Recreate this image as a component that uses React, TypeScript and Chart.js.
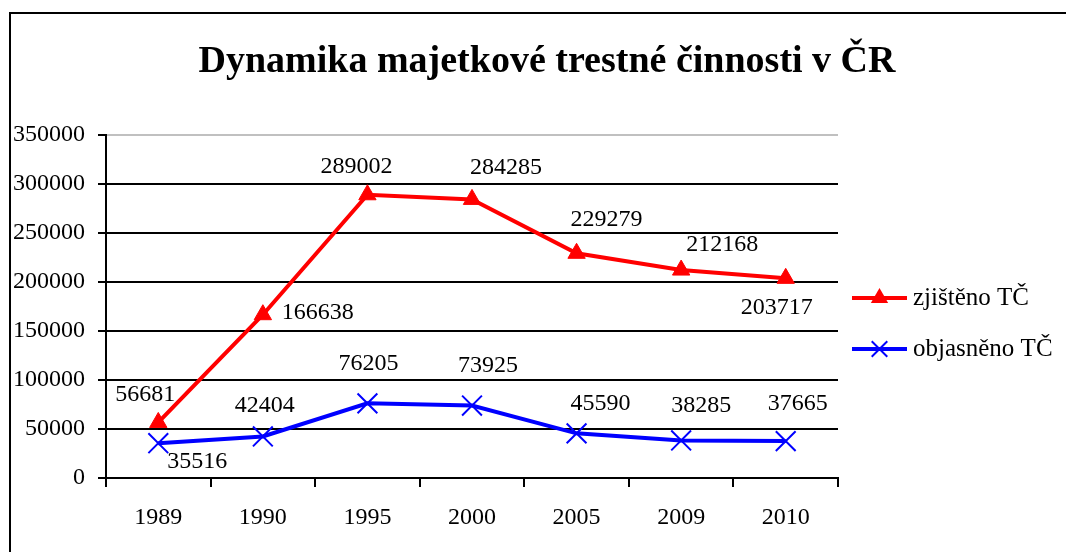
import React, { useEffect, useRef } from 'react';
import { Chart, registerables } from 'chart.js';

Chart.register(...registerables);

const titleText = 'Dynamika majetkové trestné činnosti v ČR';
const years = ['1989', '1990', '1995', '2000', '2005', '2009', '2010'];
const zjisteno = [56681, 166638, 289002, 284285, 229279, 212168, 203717];
const objasneno = [35516, 42404, 76205, 73925, 45590, 38285, 37665];
const seriesNames = ['zjištěno TČ', 'objasněno TČ'];
const yMin = 0;
const yMax = 350000;
const yStep = 50000;

// label offsets (dx, dy) from each point, in px
const zjistenoLabelOffsets = [[-13, -28], [55, -2], [-11, -28], [34, -32], [30, -34], [41, -25], [-9, 29]];
const objasnenoLabelOffsets = [[39, 19], [2, -31], [1, -40], [16, -40], [24, -30], [20, -35], [12, -37]];

const FONT = '"Liberation Serif", "Times New Roman", serif';
const RED = '#ff0000';
const BLUE = '#0000ff';

function drawTriangle(ctx: CanvasRenderingContext2D, x: number, y: number, r: number, color: string) {
  ctx.beginPath();
  let rad = 0;
  ctx.moveTo(x + Math.sin(rad) * r, y - Math.cos(rad) * r);
  rad += (2 * Math.PI) / 3;
  ctx.lineTo(x + Math.sin(rad) * r, y - Math.cos(rad) * r);
  rad += (2 * Math.PI) / 3;
  ctx.lineTo(x + Math.sin(rad) * r, y - Math.cos(rad) * r);
  ctx.closePath();
  ctx.fillStyle = color;
  ctx.fill();
}

function drawCross(ctx: CanvasRenderingContext2D, x: number, y: number, r: number, color: string) {
  const o = Math.cos(Math.PI / 4) * r;
  ctx.beginPath();
  ctx.moveTo(x - o, y - o);
  ctx.lineTo(x + o, y + o);
  ctx.moveTo(x + o, y - o);
  ctx.lineTo(x - o, y + o);
  ctx.strokeStyle = color;
  ctx.lineWidth = 2;
  ctx.stroke();
}

export default function App() {
  const ref = useRef<HTMLCanvasElement>(null);

  useEffect(() => {
    document.body.style.margin = '0';
    const canvas = ref.current;
    if (!canvas) return;

    const framePlugin = {
      id: 'frame',
      beforeDraw(chart: any) {
        const ctx = chart.ctx as CanvasRenderingContext2D;
        ctx.save();
        ctx.fillStyle = '#ffffff';
        ctx.fillRect(0, 0, chart.width, chart.height);
        ctx.strokeStyle = '#000000';
        ctx.lineWidth = 2;
        ctx.strokeRect(10, 13, chart.width + 20, chart.height + 20);
        ctx.restore();
      },
    };

    const titlePlugin = {
      id: 'customTitle',
      afterDraw(chart: any) {
        const ctx = chart.ctx as CanvasRenderingContext2D;
        ctx.save();
        ctx.fillStyle = '#000';
        ctx.font = `bold 38px ${FONT}`;
        ctx.textAlign = 'center';
        ctx.textBaseline = 'middle';
        ctx.fillText(titleText, 547, 62);
        ctx.restore();
      },
    };

    const legendPlugin = {
      id: 'customLegend',
      afterDraw(chart: any) {
        const ctx = chart.ctx as CanvasRenderingContext2D;
        ctx.save();
        const items = [
          { name: seriesNames[0], color: RED, y: 298, kind: 'tri' },
          { name: seriesNames[1], color: BLUE, y: 349, kind: 'cross' },
        ];
        for (const it of items) {
          ctx.beginPath();
          ctx.moveTo(852, it.y);
          ctx.lineTo(907, it.y);
          ctx.strokeStyle = it.color;
          ctx.lineWidth = 4;
          ctx.stroke();
          if (it.kind === 'tri') drawTriangle(ctx, 879.5, it.y, 10, it.color);
          else drawCross(ctx, 879.5, it.y, 11, it.color);
          ctx.fillStyle = '#000';
          ctx.font = `25px ${FONT}`;
          ctx.textAlign = 'left';
          ctx.textBaseline = 'middle';
          ctx.fillText(it.name, 913, it.y);
        }
        ctx.restore();
      },
    };

    const labelPlugin = {
      id: 'pointLabels',
      afterDatasetsDraw(chart: any) {
        const ctx = chart.ctx as CanvasRenderingContext2D;
        const offsets = [zjistenoLabelOffsets, objasnenoLabelOffsets];
        ctx.save();
        ctx.fillStyle = '#000';
        ctx.font = `24px ${FONT}`;
        ctx.textAlign = 'center';
        ctx.textBaseline = 'middle';
        chart.data.datasets.forEach((ds: any, di: number) => {
          const meta = chart.getDatasetMeta(di);
          meta.data.forEach((pt: any, i: number) => {
            const [dx, dy] = offsets[di][i];
            ctx.fillText(String(ds.data[i]), pt.x + dx, pt.y + dy);
          });
        });
        ctx.restore();
      },
    };

    const chart = new Chart(canvas, {
      type: 'line',
      data: {
        labels: years,
        datasets: [
          {
            label: seriesNames[0],
            data: zjisteno,
            borderColor: RED,
            backgroundColor: RED,
            borderWidth: 4,
            pointStyle: 'triangle',
            pointRadius: 10,
            pointBorderWidth: 1,
            pointBackgroundColor: RED,
            pointBorderColor: RED,
            tension: 0,
          },
          {
            label: seriesNames[1],
            data: objasneno,
            borderColor: BLUE,
            backgroundColor: BLUE,
            borderWidth: 4,
            pointStyle: 'crossRot',
            pointRadius: 14,
            pointBorderWidth: 2,
            pointBorderColor: BLUE,
            tension: 0,
          },
        ],
      },
      options: {
        animation: false,
        responsive: true,
        maintainAspectRatio: false,
        layout: { padding: { left: 10, right: 228, top: 135, bottom: 0 } },
        plugins: {
          legend: { display: false },
          title: { display: false },
          tooltip: { enabled: false },
        },
        scales: {
          x: {
            type: 'category',
            offset: true,
            afterFit: (scale: any) => {
              scale.height = 74;
            },
            border: { display: true, color: '#000', width: 2 },
            grid: {
              offset: true,
              drawOnChartArea: false,
              drawTicks: true,
              tickLength: 9,
              color: '#000',
              tickColor: '#000',
              lineWidth: 2,
              tickWidth: 2,
            },
            ticks: {
              color: '#000',
              font: { family: FONT, size: 24 },
              padding: 16,
              maxRotation: 0,
            },
          },
          y: {
            min: yMin,
            max: yMax,
            afterFit: (scale: any) => {
              scale.width = 96;
            },
            border: { display: true, color: '#000', width: 2 },
            grid: {
              color: (c: any) => (c.tick && c.tick.value === yMax ? '#c0c0c0' : '#000'),
              tickColor: '#000',
              lineWidth: 2,
              tickWidth: 2,
              drawTicks: true,
              tickLength: 8,
            },
            ticks: {
              stepSize: yStep,
              color: '#000',
              font: { family: FONT, size: 24 },
              padding: 13,
              callback: (v: any) => String(v),
            },
          },
        },
      },
      plugins: [framePlugin, labelPlugin, titlePlugin, legendPlugin],
    });

    return () => chart.destroy();
  }, []);

  return (
    <div style={{ position: 'relative', width: 1066, height: 552 }}>
      <canvas ref={ref} />
    </div>
  );
}
